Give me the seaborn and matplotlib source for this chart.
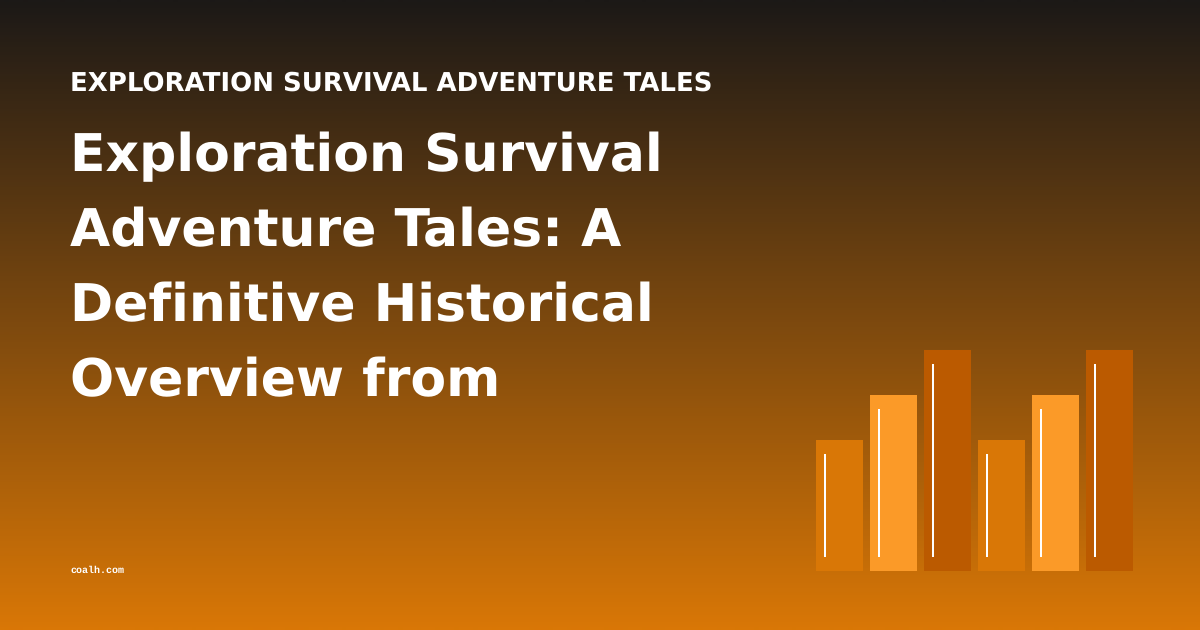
import numpy as np
import pandas as pd
import matplotlib
matplotlib.use("Agg")
import matplotlib.pyplot as plt
from matplotlib.colors import LinearSegmentedColormap
import seaborn as sns

kicker = "EXPLORATION SURVIVAL ADVENTURE TALES"
title_lines = ["Exploration Survival", "Adventure Tales: A", "Definitive Historical", "Overview from"]
footer = "coalh.com"
categories = ["a", "b", "c", "d", "e", "f"]
values = [131, 176, 221, 131, 176, 221]
bar_colors = ["#d97706", "#fb9a28", "#bb5a00", "#d97706", "#fb9a28", "#bb5a00"]

W, H = 1200, 630

sns.set_theme(style="white")
plt.rcParams["font.family"] = ["DejaVu Sans"]
plt.rcParams["text.hinting"] = "no_hinting"
plt.rcParams["text.hinting_factor"] = 1
fig = plt.figure(figsize=(W / 100, H / 100), dpi=100)

bg = fig.add_axes([0, 0, 1, 1])
bg.set_axis_off()
cmap = LinearSegmentedColormap.from_list("bg", ["#1c1917", "#d97706"])
bg.imshow(np.linspace(0, 1, 630).reshape(-1, 1), aspect="auto", cmap=cmap, vmin=0, vmax=1,
          extent=[0, W, H, 0], interpolation="bilinear")
bg.set_xlim(0, W)
bg.set_ylim(H, 0)

bg.text(70, 91, kicker, color="white", fontsize=18.72, fontweight="bold", va="baseline", ha="left")
for i, line in enumerate(title_lines):
    bg.text(70, 171 + 75 * i, line, color="white", fontsize=37.44, fontweight="bold",
            va="baseline", ha="left")
bg.text(70, 573, footer, color="white", fontsize=7.2, fontweight="bold", family="Liberation Mono",
        va="baseline", ha="left")

# bar panel: 54 px per category, 1 px per value unit
ax = fig.add_axes([812.5 / W, (H - 571) / H, 324 / W, 221 / H])
ax.patch.set_alpha(0)
df = pd.DataFrame({"cat": categories, "val": values})
sns.barplot(data=df, x="cat", y="val", hue="cat", palette=bar_colors, legend=False,
            width=47 / 54, saturation=1, linewidth=0, edgecolor="none", ax=ax)
ax.set_xlim(-0.5, 5.5)
ax.set_ylim(0, 221)
ax.set_axis_off()

# white highlight inside each bar
pos = np.arange(len(values))
ax.vlines(pos - 14.5 / 54, 14, np.array(values) - 14, color="white", linewidth=1.45, capstyle="butt")

fig.savefig("out.png", dpi=100)
